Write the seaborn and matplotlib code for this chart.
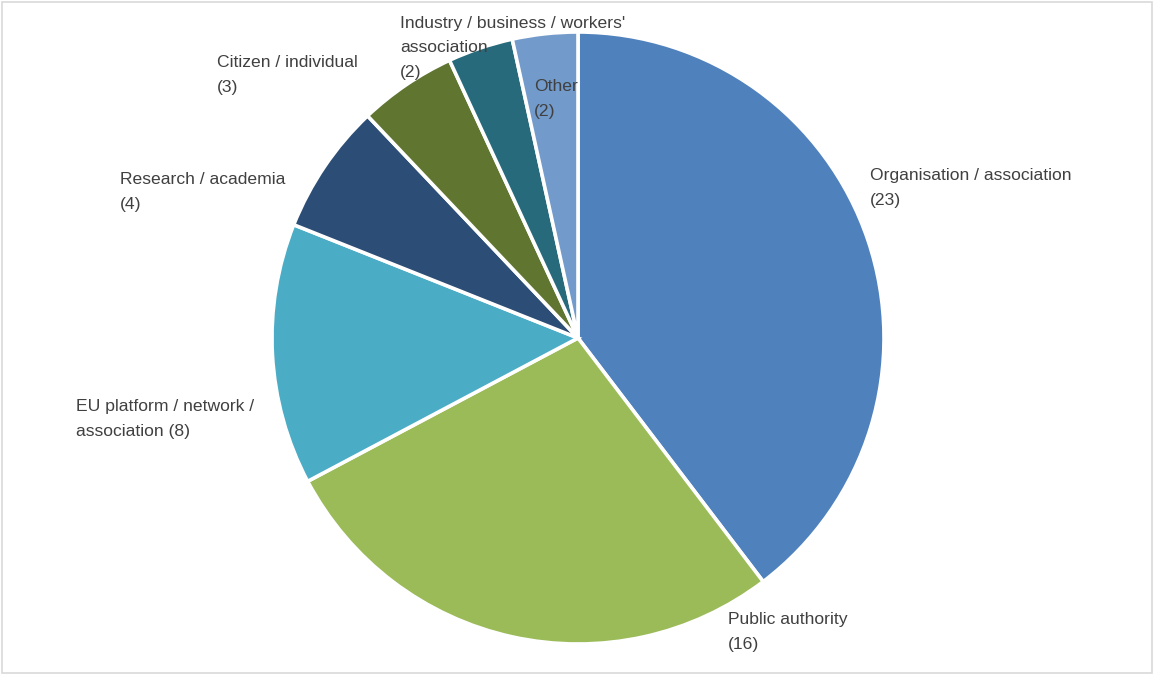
import matplotlib
matplotlib.use("Agg")
import matplotlib.pyplot as plt
import seaborn as sns
from matplotlib.patches import Rectangle

# respondent types and counts
categories = ["Organisation / association", "Public authority",
              "EU platform / network / association", "Research / academia",
              "Citizen / individual", "Industry / business / workers' association",
              "Other"]
counts = [23, 16, 8, 4, 3, 2, 2]
label_text = ["Organisation / association\n(23)", "Public authority\n(16)",
              "EU platform / network /\nassociation (8)", "Research / academia\n(4)",
              "Citizen / individual\n(3)", "Industry / business / workers'\nassociation\n(2)",
              "Other\n(2)"]
colors = ["#4F81BD", "#9BBB59", "#4BACC6", "#2C4D75", "#5F7530", "#276A7C", "#729ACA"]

sns.set_style("white")
plt.rcParams["font.family"] = ["Liberation Sans Narrow", "Liberation Sans", "DejaVu Sans"]

W, H = 1154, 675
fig = plt.figure(figsize=(W / 100, H / 100), dpi=100)
ax = fig.add_axes([0, 0, 1, 1])

ax.pie(counts, colors=colors, startangle=90, counterclock=False,
       center=(578, H - 338), radius=306, frame=True,
       wedgeprops=dict(edgecolor="white", linewidth=2.6))
ax.set_xlim(0, W)
ax.set_ylim(0, H)
ax.axis("off")

# label anchor points (left edge, vertical middle), in pixels from top-left
label_pos = [(870, 188), (728, 632), (76, 419), (120, 192), (217, 75), (400, 48), (534, 99)]
for txt, (x, y) in zip(label_text, label_pos):
    ax.text(x, H - y, txt, ha="left", va="center", fontsize=12.6,
            color="#404040", linespacing=1.78)

fig.patches.append(Rectangle((0.002, 0.003), 0.996, 0.994, transform=fig.transFigure,
                             fill=False, edgecolor="#D9D9D9", linewidth=1.2))

fig.savefig("out.png", dpi=100, facecolor="white")
